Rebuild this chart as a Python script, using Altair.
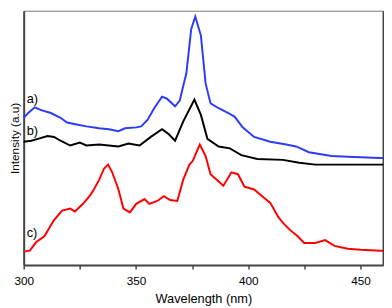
import altair as alt
import pandas as pd

# series a) blue
wl_a = [300.0, 302.0, 304.9, 307.8, 312.1, 316.4, 319.3, 323.6, 327.9, 333.6, 337.9, 342.2,
        345.1, 350.1, 352.3, 355.2, 358.1, 361.6, 363.8, 367.4, 369.5, 371.0, 372.4, 374.6,
        376.4, 378.9, 381.0, 383.2, 386.8, 391.1, 394.0, 397.5, 402.6, 409.8, 416.9, 421.3,
        427.0, 437.1, 447.1, 458.6, 460.0]
int_a = [154, 159, 165, 162, 159, 154, 149, 147, 145, 143, 142, 140,
         143, 144, 145, 152, 164, 176, 174, 166, 172, 187, 200, 247,
         260, 240, 190, 169, 164, 159, 155, 144, 134, 129, 126, 124,
         118, 114, 113, 112, 112]

# series b) black
wl_b = [300.0, 303.4, 306.3, 310.6, 313.5, 316.4, 320.7, 325.0, 327.9, 333.6, 337.9, 342.2,
        346.6, 351.6, 356.6, 361.6, 364.5, 367.4, 371.0, 376.0, 378.9, 381.8, 386.8, 391.8,
        396.9, 404.0, 415.5, 422.7, 429.9, 458.6, 460.0]
int_b = [129, 130, 132, 135, 134, 130, 125, 128, 125, 126, 125, 124,
         127, 125, 134, 142, 137, 130, 150, 173, 157, 132, 124, 122,
         115, 111, 110, 107, 105, 105, 105]

# series c) red
wl_c = [300.0, 302.7, 305.6, 309.2, 313.5, 317.1, 320.7, 322.8, 326.4, 329.3, 330.7, 333.6,
        335.8, 337.6, 339.4, 342.2, 344.4, 347.3, 350.1, 353.8, 355.9, 359.5, 362.4, 365.2,
        368.4, 371.0, 373.8, 375.3, 378.4, 381.0, 383.2, 386.1, 388.9, 392.5, 395.4, 398.3,
        402.6, 406.2, 409.8, 413.4, 415.5, 418.4, 422.0, 424.9, 429.9, 434.2, 438.4, 444.3,
        450.0, 458.6, 460.0]
int_c = [14, 15, 24, 30, 47, 57, 59, 56, 64, 72, 77, 89,
         101, 105, 97, 79, 59, 55, 64, 69, 64, 67, 72, 68,
         67, 89, 105, 109, 126, 114, 95, 89, 83, 97, 95, 82,
         79, 72, 65, 50, 44, 37, 30, 23, 23, 26, 20, 17,
         16, 15, 15]

series_names = ["a", "b", "c"]
series_colors = ["#2b3cff", "#000000", "#ff0000"]

label_text = ["a)", "b)", "c)"]
label_wl = [301.3, 301.3, 301.3]
label_int = [174, 140, 33]

rows = []
for name, xs, ys in [("a", wl_a, int_a), ("b", wl_b, int_b), ("c", wl_c, int_c)]:
    for x, y in zip(xs, ys):
        rows.append({"series": name, "wl": x, "intensity": y})
df = pd.DataFrame(rows)
labels_df = pd.DataFrame({"text": label_text, "wl": label_wl, "intensity": label_int})

FONT = "Liberation Sans"

x_scale = alt.Scale(domain=[300, 460], nice=False, zero=False)
y_scale = alt.Scale(domain=[0, 266], nice=False, zero=False)

x_axis = alt.Axis(
    title="Wavelength (nm)",
    values=[300, 325, 350, 375, 400, 425, 450],
    labelExpr="datum.value % 50 == 0 ? datum.label : ''",
    grid=False, domainColor="#444444", domainWidth=2,
    tickColor="#444444", tickWidth=1.5, tickSize=4,
    labelFont=FONT, labelFontSize=12, labelColor="#000000", labelPadding=7,
    labelOverlap=False, labelFlush=False,
    titleFont=FONT, titleFontSize=13, titleFontWeight="normal", titleColor="#000000", titlePadding=6,
)
y_axis_left = alt.Axis(
    title="Intensity (a.u)", labels=False, ticks=False, grid=False,
    domainColor="#444444", domainWidth=2,
    titleFont=FONT, titleFontSize=12, titleFontWeight="normal", titleColor="#000000", titlePadding=2,
)
y_axis_right = alt.Axis(
    orient="right", title=None, labels=False, ticks=False, grid=False,
    domainColor="#444444", domainWidth=2,
)

lines = alt.Chart(df).mark_line(strokeWidth=2).encode(
    x=alt.X("wl:Q", scale=x_scale, axis=x_axis),
    y=alt.Y("intensity:Q", scale=y_scale, axis=y_axis_left),
    color=alt.Color("series:N", scale=alt.Scale(domain=series_names, range=series_colors), legend=None),
    order="wl:Q",
)

texts = alt.Chart(labels_df).mark_text(align="left", baseline="middle", font=FONT, fontSize=13, color="#000000").encode(
    x=alt.X("wl:Q", scale=x_scale, axis=x_axis),
    y=alt.Y("intensity:Q", scale=y_scale, axis=y_axis_left),
    text="text:N",
)

right = alt.Chart(df).mark_line(opacity=0).encode(
    x=alt.X("wl:Q", scale=x_scale, axis=x_axis),
    y=alt.Y("intensity:Q", scale=y_scale, axis=y_axis_right),
    detail="series:N",
)

inner = alt.layer(lines, texts)

chart = alt.layer(inner, right).resolve_axis(y="independent").properties(
    width=366, height=259,
    autosize=alt.AutoSizeParams(type="none"),
    padding={"left": 16, "top": 0, "right": 1, "bottom": 41},
).configure_view(stroke="#777777", strokeWidth=1)

chart.save("out.html", embed_options={"renderer": "svg", "actions": False})
